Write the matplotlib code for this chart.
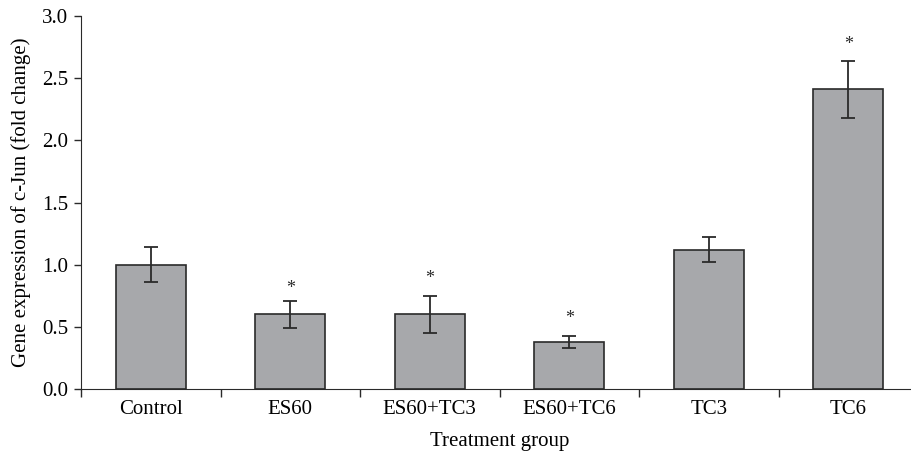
import numpy as np
import matplotlib
matplotlib.use("Agg")
import matplotlib.pyplot as plt

groups = ["Control", "ES60", "ES60+TC3", "ES60+TC6", "TC3", "TC6"]
means = [1.00, 0.60, 0.60, 0.38, 1.12, 2.41]
errors = [0.14, 0.11, 0.15, 0.05, 0.10, 0.23]
star_y = [None, 0.81, 0.89, 0.57, None, 2.77]

plt.rcParams['font.family'] = ['Liberation Serif', 'DejaVu Serif']

fig = plt.figure(figsize=(9.11, 4.51), dpi=100)
ax = fig.add_axes([81 / 911, 62 / 451, 837 / 911, 373 / 451])

x = np.arange(len(groups))
ax.bar(x, means, width=0.5, color="#a7a8ab", edgecolor="#2a2a2a", linewidth=1.2, zorder=2)
ax.errorbar(x, means, yerr=errors, fmt="none", ecolor="#2a2a2a", elinewidth=1.3,
            capsize=5, capthick=1.3, zorder=3)

for xi, sy in zip(x, star_y):
    if sy is not None:
        ax.text(xi, sy, "*", ha="center", va="center", fontsize=13, color="#2a2a2a")

ax.set_xlim(-0.5, len(groups) - 0.5)
ax.set_ylim(0, 3.0)
ax.set_yticks(np.arange(0, 3.01, 0.5))
ax.set_yticklabels(["%.1f" % v for v in np.arange(0, 3.01, 0.5)], fontsize=15)

# category labels between boundary ticks
ax.set_xticks(np.arange(-0.5, len(groups), 1.0))
ax.set_xticklabels([])
ax.set_xticks(x, minor=True)
ax.set_xticklabels(groups, minor=True, fontsize=15)
ax.tick_params(axis="x", which="minor", length=0, pad=8)
ax.tick_params(axis="x", which="major", length=6, direction="out", width=1, color="#2a2a2a")
ax.tick_params(axis="y", length=5, direction="out", width=1, color="#2a2a2a", pad=4)

ax.spines["top"].set_visible(False)
ax.spines["right"].set_visible(False)
ax.spines["left"].set_color("#2a2a2a")
ax.spines["bottom"].set_color("#2a2a2a")

ax.set_xlabel("Treatment group", fontsize=15, labelpad=9)
ax.set_ylabel("Gene expression of c-Jun (fold change)", fontsize=15, labelpad=8)

fig.savefig("out.png", dpi=100)
